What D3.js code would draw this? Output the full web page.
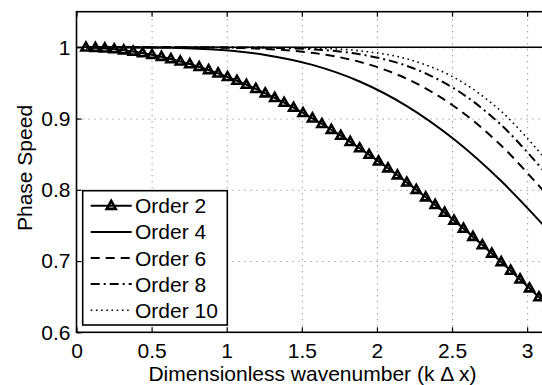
<!DOCTYPE html>
<html>
<head>
<meta charset="utf-8">
<script src="https://cdn.jsdelivr.net/npm/d3@7"></script>
<style>
  html, body { margin: 0; padding: 0; background: #fff; }
  svg { display: block; font-family: "Liberation Sans", Arial, Helvetica, sans-serif; }
</style>
</head>
<body>
<svg id="chart" width="542" height="385"></svg>
<script>
// Dimensionless wavenumber samples for the second-order scheme (marked curve)
const kFine = [
  0.0628, 0.1257, 0.1885, 0.2513, 0.3142, 0.3770, 0.4398, 0.5027, 0.5655, 0.6283,
  0.6912, 0.7540, 0.8168, 0.8796, 0.9425, 1.0053, 1.0681, 1.1310, 1.1938, 1.2566,
  1.3195, 1.3823, 1.4451, 1.5080, 1.5708, 1.6336, 1.6965, 1.7593, 1.8221, 1.8850,
  1.9478, 2.0106, 2.0735, 2.1363, 2.1991, 2.2619, 2.3248, 2.3876, 2.4504, 2.5133,
  2.5761, 2.6389, 2.7018, 2.7646, 2.8274, 2.8903, 2.9531, 3.0159, 3.0788, 3.1416
];
const order2 = [
  0.99984, 0.99934, 0.99852, 0.99737, 0.99589, 0.99409, 0.99196, 0.98951, 0.98673, 0.98363,
  0.98021, 0.97648, 0.97243, 0.96807, 0.96340, 0.95842, 0.95313, 0.94755, 0.94167, 0.93549,
  0.92902, 0.92227, 0.91523, 0.90791, 0.90032, 0.89245, 0.88433, 0.87594, 0.86729, 0.85839,
  0.84925, 0.83987, 0.83025, 0.82040, 0.81033, 0.80004, 0.78954, 0.77883, 0.76793, 0.75683,
  0.74554, 0.73407, 0.72243, 0.71062, 0.69865, 0.68652, 0.67425, 0.66184, 0.64929, 0.63662
];

// Wavenumber samples for the higher-order schemes (smooth curves)
const kCoarse = [0.0628, 0.3142, 0.6283, 0.9425, 1.2566, 1.5708, 1.8850, 2.1991, 2.5133, 2.8274, 3.1416];
const order4  = [1.00000, 0.99995, 0.99929, 0.99649, 0.98936, 0.97534, 0.95203, 0.91755, 0.87092, 0.81224, 0.74272];
const order6  = [1.00000, 1.00000, 0.99996, 0.99956, 0.99773, 0.99222, 0.97961, 0.95586, 0.91736, 0.86210, 0.79048];
const order8  = [1.00000, 1.00000, 1.00000, 0.99994, 0.99945, 0.99725, 0.99035, 0.97396, 0.94236, 0.89106, 0.81889];
const order10 = [1.00000, 1.00000, 1.00000, 0.99999, 0.99986, 0.99896, 0.99514, 0.98374, 0.95775, 0.91028, 0.83823];

// Exact (non-dispersive) phase speed
const exactK = [0, 3.1416];
const exactSpeed = [1, 1];

const seriesNames = ["Order 2", "Order 4", "Order 6", "Order 8", "Order 10"];
const xTicks = [0, 0.5, 1, 1.5, 2, 2.5, 3];
const xTickLabels = ["0", "0.5", "1", "1.5", "2", "2.5", "3"];
const yTicks = [0.6, 0.7, 0.8, 0.9, 1];
const yTickLabels = ["0.6", "0.7", "0.8", "0.9", "1"];
const xLabel = "Dimensionless wavenumber (k \u0394 x)";
const yLabel = "Phase Speed";

// ---- layout ----
const box = { left: 76.5, right: 548.4, top: 11.7, bottom: 332.3 };
const fontSize = 21;

const svg = d3.select("#chart");
const x = d3.scaleLinear().domain([0, 3.1416]).range([box.left, box.right]);
const y = d3.scaleLinear().domain([0.6, 1.05]).range([box.bottom, box.top]);

svg.append("defs").append("clipPath").attr("id", "plotClip")
  .append("rect")
  .attr("x", box.left).attr("y", box.top)
  .attr("width", box.right - box.left).attr("height", box.bottom - box.top);

// ---- dotted grid ----
const grid = svg.append("g").attr("class", "grid");
grid.append("g")
  .attr("transform", `translate(0,${box.bottom})`)
  .call(d3.axisBottom(x).tickValues(xTicks.filter(v => v > 0))
    .tickSize(-(box.bottom - box.top)).tickFormat(""))
  .call(g => g.select(".domain").remove());
grid.append("g")
  .attr("transform", `translate(${box.left},0)`)
  .call(d3.axisLeft(y).tickValues(yTicks.filter(v => v > 0.6))
    .tickSize(-(box.right - box.left)).tickFormat(""))
  .call(g => g.select(".domain").remove());
grid.selectAll("line")
  .attr("stroke", "#8a8a8a").attr("stroke-width", 1)
  .attr("stroke-dasharray", "1.2,4.8");

// ---- curves ----
const plot = svg.append("g").attr("clip-path", "url(#plotClip)");

const smooth = d3.line()
  .x(d => x(d[0])).y(d => y(d[1]))
  .curve(d3.curveCatmullRom.alpha(0.5));
const straight = d3.line().x(d => x(d[0])).y(d => y(d[1]));

const fineData = d3.zip(kFine, order2);
const styles = [
  { data: fineData, dash: null, width: 2, line: straight },
  { data: d3.zip(kCoarse, order4), dash: null, width: 2, line: smooth },
  { data: d3.zip(kCoarse, order6), dash: "9,6", width: 2, line: smooth },
  { data: d3.zip(kCoarse, order8), dash: "9,4,2,4", width: 2, line: smooth },
  { data: d3.zip(kCoarse, order10), dash: "1.6,3.6", width: 1.6, line: smooth }
];

styles.forEach(s => {
  plot.append("path")
    .attr("d", s.line(s.data))
    .attr("fill", "none")
    .attr("stroke", "#000")
    .attr("stroke-width", s.width)
    .attr("stroke-linejoin", "round")
    .attr("stroke-dasharray", s.dash);
});

// triangle markers on the second-order curve
const tri = "M0,-4.9L4.5,3.1L-4.5,3.1Z";
const triStroke = 2.6;
plot.append("g").selectAll("path")
  .data(fineData)
  .join("path")
  .attr("d", tri)
  .attr("transform", d => `translate(${x(d[0])},${y(d[1])})`)
  .attr("fill", "none")
  .attr("stroke", "#000")
  .attr("stroke-width", triStroke)
  .attr("stroke-linejoin", "miter");

// exact phase speed reference line
plot.append("path")
  .attr("d", straight(d3.zip(exactK, exactSpeed)))
  .attr("fill", "none").attr("stroke", "#000").attr("stroke-width", 1.4);

// ---- axes box with inward ticks ----
const tickLen = 5;
const axes = svg.append("g").attr("class", "axes");

axes.append("g")
  .attr("transform", `translate(0,${box.bottom})`)
  .call(d3.axisBottom(x).tickValues(xTicks)
    .tickFormat((d, i) => xTickLabels[i])
    .tickSizeInner(-tickLen).tickSizeOuter(0).tickPadding(11));
axes.append("g")
  .attr("transform", `translate(0,${box.top})`)
  .call(d3.axisTop(x).tickValues(xTicks).tickFormat("")
    .tickSizeInner(-tickLen).tickSizeOuter(0));
axes.append("g")
  .attr("transform", `translate(${box.left},0)`)
  .call(d3.axisLeft(y).tickValues(yTicks)
    .tickFormat((d, i) => yTickLabels[i])
    .tickSizeInner(-tickLen).tickSizeOuter(0).tickPadding(6));
axes.append("g")
  .attr("transform", `translate(${box.right},0)`)
  .call(d3.axisRight(y).tickValues(yTicks).tickFormat("")
    .tickSizeInner(-tickLen).tickSizeOuter(0));

axes.selectAll(".domain").remove();
axes.selectAll(".tick line").attr("stroke", "#000").attr("stroke-width", 1.2);
axes.selectAll(".tick text")
  .attr("font-family", "Liberation Sans, Arial, sans-serif")
  .attr("font-size", fontSize).attr("fill", "#000");

axes.append("rect")
  .attr("x", box.left).attr("y", box.top)
  .attr("width", box.right - box.left).attr("height", box.bottom - box.top)
  .attr("fill", "none").attr("stroke", "#000").attr("stroke-width", 1.6);

// ---- axis labels ----
svg.append("text")
  .attr("x", (box.left + box.right) / 2).attr("y", 381)
  .attr("text-anchor", "middle")
  .attr("font-size", fontSize)
  .text(xLabel);

svg.append("text")
  .attr("transform", `translate(31.5,168) rotate(-90)`)
  .attr("text-anchor", "middle")
  .attr("font-size", fontSize)
  .text(yLabel);

// ---- legend ----
const legend = svg.append("g").attr("class", "legend");
legend.append("rect")
  .attr("x", 82.7).attr("y", 190.7)
  .attr("width", 144.6).attr("height", 134.3)
  .attr("fill", "#fff").attr("stroke", "#000").attr("stroke-width", 1.6);

const rows = legend.selectAll("g.row")
  .data(seriesNames)
  .join("g")
  .attr("class", "row")
  .attr("transform", (d, i) => `translate(0,${205.8 + i * 26.1})`);

rows.append("line")
  .attr("x1", 90.7).attr("x2", 131.7)
  .attr("y1", 0).attr("y2", 0)
  .attr("stroke", "#000")
  .attr("stroke-width", (d, i) => styles[i].width)
  .attr("stroke-dasharray", (d, i) => styles[i].dash);

rows.filter((d, i) => i === 0).append("path")
  .attr("d", tri)
  .attr("transform", "translate(111.2,0)")
  .attr("fill", "none").attr("stroke", "#000").attr("stroke-width", triStroke);

rows.append("text")
  .attr("x", 135).attr("y", 0).attr("dy", "0.36em")
  .attr("font-size", fontSize)
  .text(d => d);
</script>
</body>
</html>
